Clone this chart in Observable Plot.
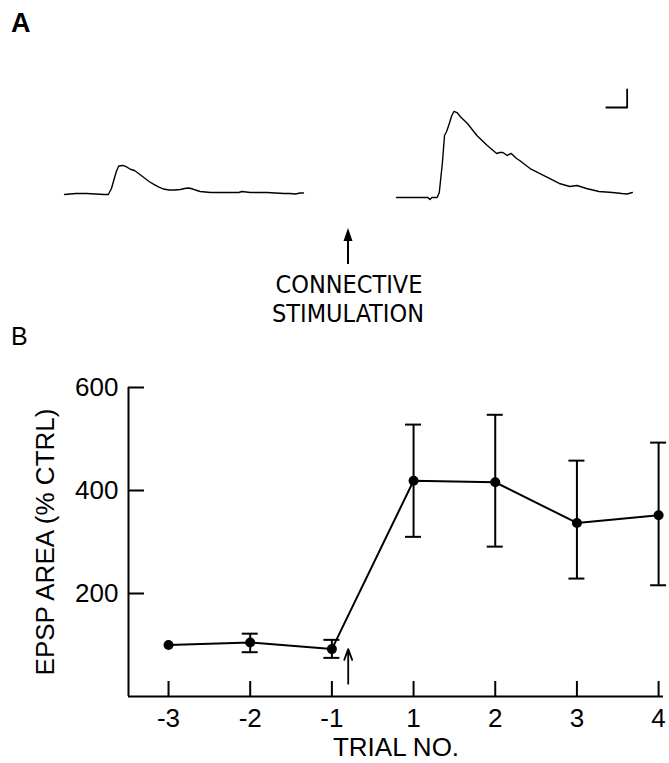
<!DOCTYPE html>
<html>
<head>
<meta charset="utf-8">
<script src="https://cdn.jsdelivr.net/npm/d3@7"></script>
<script src="https://cdn.jsdelivr.net/npm/@observablehq/plot@0.6"></script>
<style>
  body { margin: 0; background: #fff; }
  #wrap { position: relative; width: 669px; height: 763px; background: #fff; overflow: hidden;
          font-family: "Liberation Sans", Arial, sans-serif; color: #000; }
  .panel { position: absolute; left: 0; }
  .lbl { position: absolute; line-height: 1; }
</style>
</head>
<body>
<div id="wrap">
  <div id="panelA" class="panel" style="top:0"></div>
  <div id="panelB" class="panel" style="top:320px"></div>
  <div class="lbl" style="left:11px;top:10px;font-size:27px;font-weight:bold">A</div>
  <div class="lbl" style="left:11px;top:324px;font-size:25px">B</div>
  <svg class="panel" style="top:0" width="669" height="330">
    <line x1="348" y1="264" x2="348" y2="236" stroke="#000" stroke-width="2"/>
    <polygon points="348,228 343.5,241 352.5,241" fill="#000"/>
    <g font-family="'Liberation Sans Narrow', 'DejaVu Sans Condensed', 'Liberation Sans', sans-serif" font-size="25" text-anchor="middle" fill="#000">
      <text x="349" y="293">CONNECTIVE</text>
      <text x="348" y="322">STIMULATION</text>
    </g>
  </svg>
</div>
<script>
// ---------- Panel A: intracellular EPSP traces (time in ms, potential in mV) ----------
const sweeps = ["control", "post"];
const control_t  = [0, 11, 21, 30, 38, 42, 45, 48, 50, 52, 56, 59, 62, 64, 67, 71, 76, 81, 86, 90, 95, 100, 105, 111, 115, 119, 123, 127, 130, 140, 150, 159, 167, 170, 174, 178, 188, 194, 202, 210, 216, 221, 226, 229];
const control_mV = [0.33, 0.44, 0.44, 0.39, 0.33, 0.33, 1.0, 2.22, 3.0, 3.5, 3.56, 3.44, 3.22, 3.11, 3.0, 2.67, 2.22, 1.78, 1.44, 1.17, 0.94, 0.83, 0.83, 0.89, 1.0, 1.06, 0.94, 0.78, 0.67, 0.56, 0.56, 0.56, 0.56, 0.67, 0.61, 0.56, 0.56, 0.56, 0.5, 0.44, 0.44, 0.39, 0.5, 0.5];
const post_t  = [0, 13, 23, 30, 32, 34, 39, 41, 44, 46, 48, 50, 53, 55, 58, 61, 68, 77, 87, 96, 99, 102, 106, 110, 115, 118, 128, 137, 147, 156, 166, 173, 182, 194, 207, 216, 221, 226];
const post_mV = [0, 0, 0, 0, -0.22, 0, 0, 0.56, 3.89, 6.89, 7.33, 8.0, 9.11, 9.56, 9.44, 9.0, 8.22, 6.89, 5.78, 4.89, 5.0, 5.0, 4.67, 4.89, 4.33, 4.11, 3.22, 2.67, 2.11, 1.56, 1.22, 1.33, 1.0, 0.67, 0.56, 0.44, 0.39, 0.56];
// calibration bar (20 ms, 2 mV) drawn above the end of the post-stimulation sweep
const calMs = 20, calMv = 2, calEndT = 221, calBaseV = 10;

const traceRows = [
  ...control_t.map((t, i) => ({sweep: "control", t, v: control_mV[i]})),
  ...post_t.map((t, i) => ({sweep: "post", t, v: post_mV[i]}))
];
const calRows = [
  {sweep: "post", t: calEndT - calMs, v: calBaseV},
  {sweep: "post", t: calEndT, v: calBaseV},
  {sweep: "post", t: calEndT, v: calBaseV + calMv}
];

const plotA = Plot.plot({
  width: 669, height: 320,
  marginLeft: 63, marginRight: 33, marginTop: 89, marginBottom: 123,
  style: {background: "transparent"},
  x: {domain: [0, 229], axis: null},
  y: {domain: [0, 12], axis: null},
  fx: {domain: sweeps, axis: null, paddingInner: 0.279, paddingOuter: 0},
  marks: [
    Plot.line(traceRows, {x: "t", y: "v", fx: "sweep", stroke: "#000", strokeWidth: 1.4}),
    Plot.line(calRows, {x: "t", y: "v", fx: "sweep", stroke: "#000", strokeWidth: 1.8})
  ]
});
document.getElementById("panelA").append(plotA);

// ---------- Panel B: EPSP area vs trial ----------
const trialLabels = ["-3", "-2", "-1", "1", "2", "3", "4"];
const epspArea = [100, 105, 92, 419, 416, 337, 352];
const errHigh  = [null, 122, 110, 528, 547, 458, 493];
const errLow   = [null, 86, 75, 310, 291, 229, 216];
const yTicks = [200, 400, 600];
const stimulation = {pos: 2.2, from: 25, to: 92}; // arrow between trial -1 and 1

const rows = trialLabels.map((lab, i) => ({i, lab, v: epspArea[i], hi: errHigh[i], lo: errLow[i]}));
const errRows = rows.filter(d => d.hi != null);
const xDomain = [-0.49, 6.06];

const plotB = Plot.plot({
  width: 669, height: 443,
  marginLeft: 128, marginRight: 6, marginTop: 67, marginBottom: 67,
  style: {fontFamily: "'Liberation Sans', Arial, sans-serif", fontSize: "26px", color: "#000", background: "transparent"},
  x: {domain: xDomain},
  y: {domain: [0, 600]},
  marks: [
    Plot.axisY({ticks: yTicks, tickSize: 0, tickPadding: 10, label: "EPSP AREA (% CTRL)",
                labelAnchor: "center", labelOffset: 93, labelArrow: "none"}),
    Plot.axisX({ticks: trialLabels.map((_, i) => i), tickFormat: i => trialLabels[i], tickSize: 0, tickPadding: 12,
                label: "TRIAL NO.", labelAnchor: "center", labelOffset: 59, labelArrow: "none"}),
    Plot.ruleX([xDomain[0]], {stroke: "#000", strokeWidth: 2}),
    Plot.ruleY([0], {stroke: "#000", strokeWidth: 2}),
    Plot.ruleY(yTicks, {y: d => d, x1: () => xDomain[0], x2: () => xDomain[0], insetRight: -16, stroke: "#000", strokeWidth: 2}),
    Plot.ruleX(rows, {x: "i", y1: () => 0, y2: () => 0, insetBottom: 15, stroke: "#000", strokeWidth: 2}),
    Plot.ruleX(errRows, {x: "i", y1: "lo", y2: "hi", stroke: "#000", strokeWidth: 2}),
    Plot.ruleY(errRows, {y: "hi", x1: "i", x2: "i", insetLeft: -8, insetRight: -8, stroke: "#000", strokeWidth: 2}),
    Plot.ruleY(errRows, {y: "lo", x1: "i", x2: "i", insetLeft: -8, insetRight: -8, stroke: "#000", strokeWidth: 2}),
    Plot.line(rows, {x: "i", y: "v", stroke: "#000", strokeWidth: 2}),
    Plot.dot(rows, {x: "i", y: "v", r: 5, fill: "#000"}),
    Plot.arrow([stimulation], {x1: "pos", x2: "pos", y1: "from", y2: "to", stroke: "#000", strokeWidth: 1.8, headLength: 10, headAngle: 40})
  ]
});
document.getElementById("panelB").append(plotB);
</script>
</body>
</html>
